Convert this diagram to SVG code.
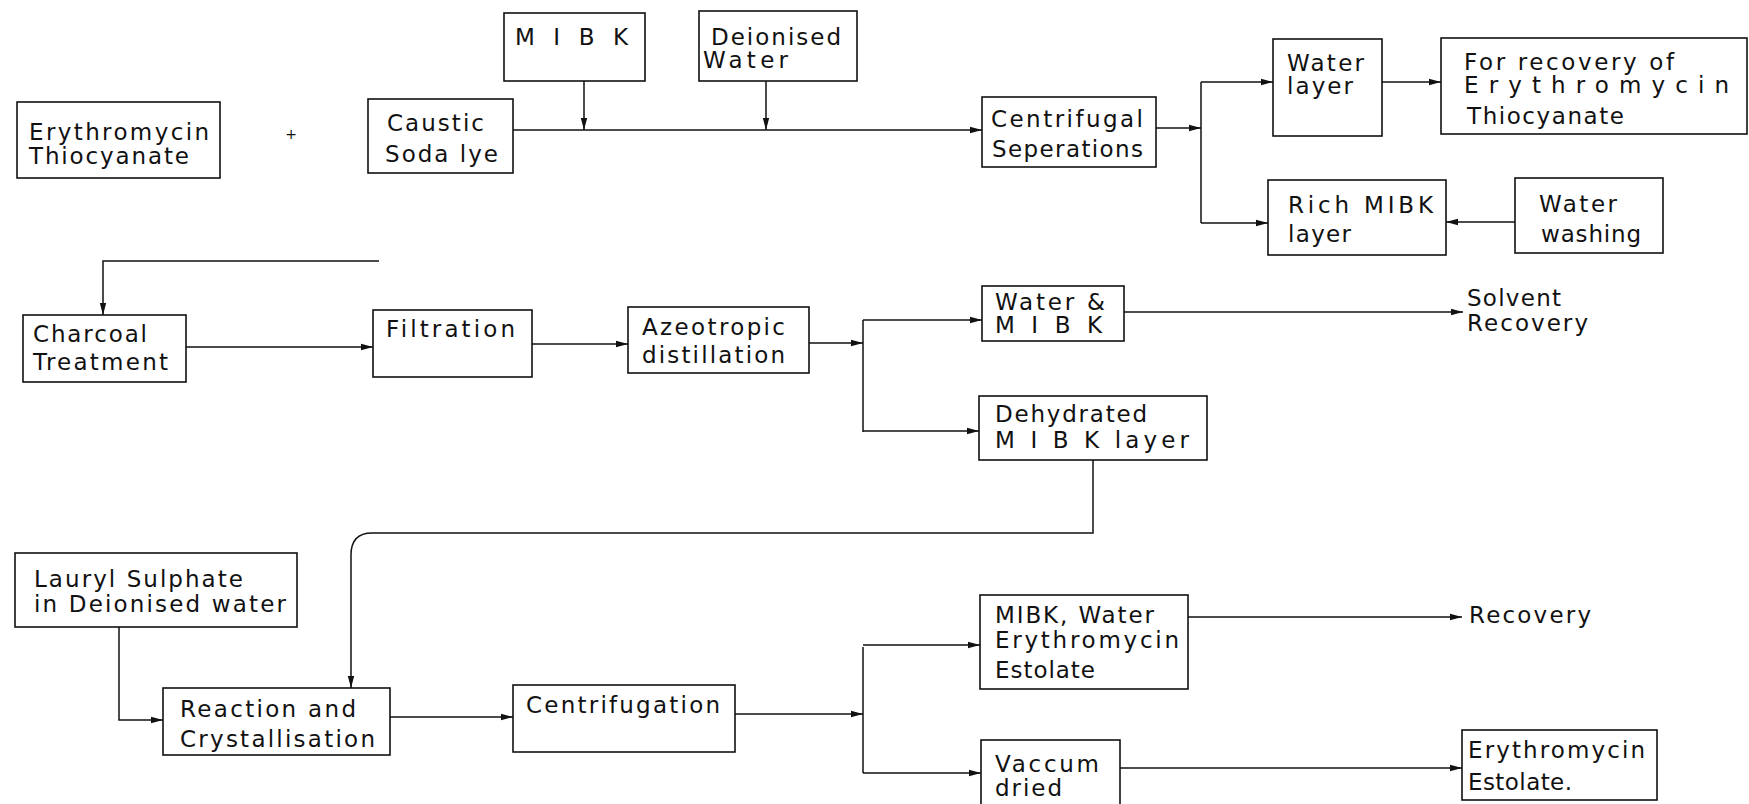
<svg xmlns="http://www.w3.org/2000/svg" width="1749" height="804" viewBox="0 0 1749 804">
<style>
.box{fill:none;stroke:#111;stroke-width:1.6}
.t{font-family:"DejaVu Sans","Liberation Sans",sans-serif;font-size:23px;fill:#111}
.c{fill:none;stroke:#111;stroke-width:1.5}
</style>
<defs>
<marker id="ah" markerWidth="12" markerHeight="8" refX="12" refY="4" orient="auto" markerUnits="userSpaceOnUse">
<path d="M0,0.8 L12,4 L0,7.2 Z" fill="#111"/>
</marker>
</defs>
<rect width="1749" height="804" fill="#fff"/>

<g id="erythro-thiocyanate">
<rect class="box" x="17" y="102" width="203" height="76"/>
<text class="t" x="29" y="140" textLength="180" lengthAdjust="spacing">Erythromycin</text>
<text class="t" x="29" y="164" textLength="160" lengthAdjust="spacing">Thiocyanate</text>
</g>
<g id="plus"><text class="t" x="291" y="139" text-anchor="middle" style="font-size:14px">+</text></g>
<g id="caustic">
<rect class="box" x="368" y="99" width="145" height="74"/>
<text class="t" x="387" y="131" textLength="97" lengthAdjust="spacing">Caustic</text>
<text class="t" x="385" y="162" textLength="113" lengthAdjust="spacing">Soda lye</text>
</g>
<g id="mibk">
<rect class="box" x="504" y="13" width="141" height="68"/>
<text class="t" x="515" y="45" textLength="113" lengthAdjust="spacing">M I B K</text>
</g>
<g id="deionised">
<rect class="box" x="699" y="11" width="158" height="70"/>
<text class="t" x="711" y="45" textLength="130" lengthAdjust="spacing">Deionised</text>
<text class="t" x="703" y="68" textLength="85" lengthAdjust="spacing">Water</text>
</g>
<g id="centrifugal">
<rect class="box" x="982" y="97" width="174" height="70"/>
<text class="t" x="991" y="127" textLength="152" lengthAdjust="spacing">Centrifugal</text>
<text class="t" x="992" y="157" textLength="151" lengthAdjust="spacing">Seperations</text>
</g>
<g id="water-layer">
<rect class="box" x="1273" y="39" width="109" height="97"/>
<text class="t" x="1287" y="71" textLength="77" lengthAdjust="spacing">Water</text>
<text class="t" x="1287" y="94" textLength="66" lengthAdjust="spacing">layer</text>
</g>
<g id="for-recovery">
<rect class="box" x="1441" y="38" width="306" height="96"/>
<text class="t" x="1464" y="70" textLength="210" lengthAdjust="spacing">For recovery of</text>
<text class="t" x="1464" y="93" textLength="265" lengthAdjust="spacing">Erythromycin</text>
<text class="t" x="1467" y="124" textLength="157" lengthAdjust="spacing">Thiocyanate</text>
</g>
<g id="rich-mibk">
<rect class="box" x="1268" y="180" width="178" height="75"/>
<text class="t" x="1288" y="213" textLength="145" lengthAdjust="spacing">Rich MIBK</text>
<text class="t" x="1288" y="242" textLength="63" lengthAdjust="spacing">layer</text>
</g>
<g id="water-washing">
<rect class="box" x="1515" y="178" width="148" height="75"/>
<text class="t" x="1539" y="212" textLength="78" lengthAdjust="spacing">Water</text>
<text class="t" x="1541" y="242" textLength="100" lengthAdjust="spacing">washing</text>
</g>
<g id="charcoal">
<rect class="box" x="23" y="315" width="163" height="67"/>
<text class="t" x="33" y="342" textLength="114" lengthAdjust="spacing">Charcoal</text>
<text class="t" x="33" y="370" textLength="135" lengthAdjust="spacing">Treatment</text>
</g>
<g id="filtration">
<rect class="box" x="373" y="310" width="159" height="67"/>
<text class="t" x="386" y="337" textLength="129" lengthAdjust="spacing">Filtration</text>
</g>
<g id="azeotropic">
<rect class="box" x="628" y="307" width="181" height="66"/>
<text class="t" x="642" y="335" textLength="143" lengthAdjust="spacing">Azeotropic</text>
<text class="t" x="642" y="363" textLength="143" lengthAdjust="spacing">distillation</text>
</g>
<g id="water-mibk">
<rect class="box" x="982" y="286" width="142" height="55"/>
<text class="t" x="995" y="310" textLength="110" lengthAdjust="spacing">Water &amp;</text>
<text class="t" x="995" y="333" textLength="107" lengthAdjust="spacing">M I B K</text>
</g>
<g id="dehydrated">
<rect class="box" x="979" y="396" width="228" height="64"/>
<text class="t" x="995" y="422" textLength="152" lengthAdjust="spacing">Dehydrated</text>
<text class="t" x="995" y="448" textLength="194" lengthAdjust="spacing">M I B K  layer</text>
</g>
<g id="solvent-recovery">
<text class="t" x="1467" y="306" textLength="94" lengthAdjust="spacing">Solvent</text>
<text class="t" x="1467" y="331" textLength="121" lengthAdjust="spacing">Recovery</text>
</g>
<g id="lauryl">
<rect class="box" x="15" y="553" width="282" height="74"/>
<text class="t" x="34" y="587" textLength="209" lengthAdjust="spacing">Lauryl Sulphate</text>
<text class="t" x="34" y="612" textLength="252" lengthAdjust="spacing">in Deionised water</text>
</g>
<g id="reaction">
<rect class="box" x="163" y="688" width="227" height="67"/>
<text class="t" x="180" y="717" textLength="176" lengthAdjust="spacing">Reaction and</text>
<text class="t" x="180" y="747" textLength="195" lengthAdjust="spacing">Crystallisation</text>
</g>
<g id="centrifugation">
<rect class="box" x="513" y="685" width="222" height="67"/>
<text class="t" x="526" y="713" textLength="194" lengthAdjust="spacing">Centrifugation</text>
</g>
<g id="mibk-water-estolate">
<rect class="box" x="980" y="595" width="208" height="94"/>
<text class="t" x="995" y="623" textLength="159" lengthAdjust="spacing">MIBK, Water</text>
<text class="t" x="995" y="648" textLength="184" lengthAdjust="spacing">Erythromycin</text>
<text class="t" x="995" y="678" textLength="100" lengthAdjust="spacing">Estolate</text>
</g>
<g id="vaccum-dried">
<rect class="box" x="981" y="740" width="139" height="70"/>
<text class="t" x="995" y="772" textLength="104" lengthAdjust="spacing">Vaccum</text>
<text class="t" x="995" y="796" textLength="67" lengthAdjust="spacing">dried</text>
</g>
<g id="recovery">
<text class="t" x="1469" y="623" textLength="122" lengthAdjust="spacing">Recovery</text>
</g>
<g id="erythro-estolate">
<rect class="box" x="1462" y="730" width="195" height="70"/>
<text class="t" x="1468" y="758" textLength="177" lengthAdjust="spacing">Erythromycin</text>
<text class="t" x="1468" y="790" textLength="104" lengthAdjust="spacing">Estolate.</text>
</g>

<g id="connectors">
<path class="c" d="M584,81 V130" marker-end="url(#ah)"/>
<path class="c" d="M766,81 V130" marker-end="url(#ah)"/>
<path class="c" d="M513,130 H982" marker-end="url(#ah)"/>
<path class="c" d="M1156,128 H1201" marker-end="url(#ah)"/>
<path class="c" d="M1201,82 V223"/>
<path class="c" d="M1201,82 H1273" marker-end="url(#ah)"/>
<path class="c" d="M1201,223 H1268" marker-end="url(#ah)"/>
<path class="c" d="M1382,82 H1441" marker-end="url(#ah)"/>
<path class="c" d="M1515,222 H1446" marker-end="url(#ah)"/>
<path class="c" d="M379,261 H103 V315" marker-end="url(#ah)"/>
<path class="c" d="M186,347 H373" marker-end="url(#ah)"/>
<path class="c" d="M532,344 H628" marker-end="url(#ah)"/>
<path class="c" d="M809,343 H863" marker-end="url(#ah)"/>
<path class="c" d="M863,320 V432"/>
<path class="c" d="M863,320 H982" marker-end="url(#ah)"/>
<path class="c" d="M863,431 H979" marker-end="url(#ah)"/>
<path class="c" d="M1124,312 H1463" marker-end="url(#ah)"/>
<path class="c" d="M1093,460 V533 H372 Q351,533 351,555 V688" marker-end="url(#ah)"/>
<path class="c" d="M119,627 V720 H163" marker-end="url(#ah)"/>
<path class="c" d="M390,717 H513" marker-end="url(#ah)"/>
<path class="c" d="M735,714 H863" marker-end="url(#ah)"/>
<path class="c" d="M863,647 V773"/>
<path class="c" d="M863,645 H980" marker-end="url(#ah)"/>
<path class="c" d="M863,773 H981" marker-end="url(#ah)"/>
<path class="c" d="M1188,617 H1462" marker-end="url(#ah)"/>
<path class="c" d="M1120,768 H1462" marker-end="url(#ah)"/>
</g>
</svg>
